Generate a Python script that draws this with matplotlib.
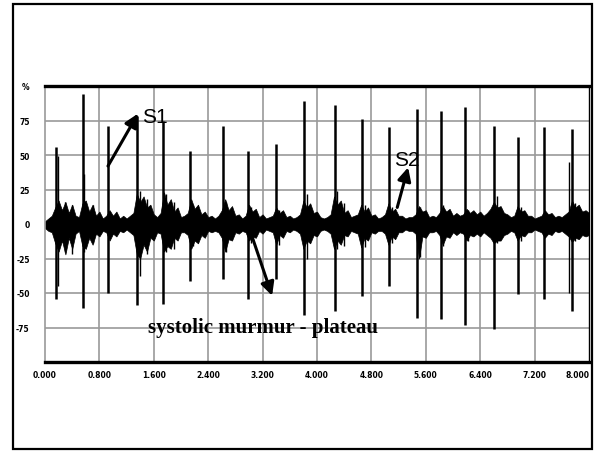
import matplotlib
matplotlib.use("Agg")
import matplotlib.pyplot as plt
from matplotlib.patches import Rectangle

# ---- data ----
x_ticks = [0.0, 0.8, 1.6, 2.4, 3.2, 4.0, 4.8, 5.6, 6.4, 7.2, 8.0]
x_labels = ["0.000", "0.800", "1.600", "2.400", "3.200", "4.000", "4.800",
            "5.600", "6.400", "7.200", "8.000"]
y_ticks = [100, 75, 50, 25, 0, -25, -50, -75]
y_labels = ["%", "75", "50", "25", "0", "-25", "-50", "-75"]

# main heart-sound spikes (time s, positive peak %, negative peak %)
spike_t = [0.16, 0.56, 0.93, 1.35, 1.74, 2.13, 2.62, 2.99, 3.40, 3.81,
           4.26, 4.66, 5.06, 5.47, 5.82, 6.18, 6.60, 6.96, 7.34, 7.75]
spike_up = [56, 94, 71, 78, 75, 53, 71, 53, 58, 89,
            86, 76, 70, 83, 82, 85, 71, 63, 70, 69]
spike_dn = [-54, -61, -50, -59, -58, -41, -40, -54, -40, -66,
            -63, -52, -45, -68, -69, -73, -76, -51, -54, -63]

# secondary spikes next to the main ones
minor_t = [0.19, 0.30, 0.40, 0.58, 0.70, 1.40, 1.50, 1.78, 1.90, 2.18,
           2.66, 3.03, 3.44, 3.85, 4.30, 4.40, 4.70, 5.10, 5.52, 5.86,
           6.22, 6.64, 7.00, 7.71, 7.80]
minor_up = [49, 16, 14, 36, 14, 24, 18, 22, 16, 14,
            16, 12, 10, 22, 24, 15, 14, 12, 12, 14,
            10, 20, 12, 45, 15]
minor_dn = [-45, -20, -22, -20, -14, -38, -22, -20, -18, -16,
            -20, -14, -15, -25, -18, -16, -17, -14, -24, -16,
            -12, -14, -12, -50, -12]

# murmur/noise band envelope, sampled every 0.05 s from 0 to 8 s
env_step = 0.05
env_hi = [2, 4, 6,
          12, 17, 10, 16, 8, 14, 6, 5,
          15, 17, 9, 14, 6, 9, 4, 6,
          10, 6, 9, 4, 6, 4, 6, 8,
          22, 16, 20, 12, 14, 7, 5, 8,
          23, 14, 18, 9, 12, 5, 6, 8,
          18, 11, 14, 7, 9, 5, 6, 4, 6, 10,
          18, 10, 13, 6, 7, 4, 6,
          14, 9, 11, 5, 7, 4, 5, 6,
          12, 8, 10, 5, 6, 4, 5, 7,
          17, 12, 15, 8, 9, 5, 4, 5, 7,
          20, 14, 17, 8, 10, 5, 6, 7,
          14, 9, 12, 6, 7, 4, 5, 7,
          15, 9, 11, 6, 6, 4, 5, 5, 7,
          13, 9, 10, 5, 6, 5, 8,
          13, 9, 11, 6, 8, 6, 7,
          11, 8, 10, 7, 9, 6, 8, 11,
          16, 12, 13, 8, 7, 5, 6,
          13, 9, 10, 6, 6, 4, 5, 6,
          10, 7, 8, 5, 6, 5, 7, 9,
          17, 12, 14, 9, 10, 8]
env_lo = [-3, -5, -6,
          -14, -20, -12, -22, -10, -18, -7, -5,
          -16, -18, -10, -15, -7, -9, -5, -6,
          -12, -7, -9, -5, -6, -4, -6, -8,
          -22, -25, -15, -20, -10, -12, -6, -7,
          -20, -16, -18, -10, -12, -6, -6, -8,
          -18, -12, -14, -8, -10, -5, -6, -5, -6, -10,
          -20, -11, -12, -6, -7, -5, -6,
          -12, -9, -10, -5, -7, -4, -5, -6,
          -15, -8, -10, -5, -6, -4, -5, -7,
          -18, -12, -14, -8, -9, -5, -4, -5, -7,
          -18, -12, -15, -8, -9, -5, -6, -7,
          -17, -10, -12, -6, -7, -5, -5, -7,
          -15, -9, -11, -6, -6, -4, -5, -5, -7,
          -25, -9, -10, -6, -6, -5, -8,
          -15, -9, -10, -6, -8, -6, -7,
          -12, -8, -9, -7, -9, -6, -8, -10,
          -14, -12, -12, -8, -7, -5, -6,
          -12, -8, -9, -6, -6, -4, -5, -6,
          -10, -7, -8, -5, -6, -5, -7, -9,
          -13, -10, -11, -8, -9, -8]
env_t = [i * env_step for i in range(len(env_hi))]

# ---- figure ----
W, H = 596, 456
fig = plt.figure(figsize=(W / 100, H / 100), dpi=100)
fig.patch.set_facecolor("white")
fig.add_artist(Rectangle((13 / W, 1 - 450 / H), (592 - 13) / W, (450 - 5) / H,
                         transform=fig.transFigure, fill=False,
                         edgecolor="black", linewidth=1.6))

ax = fig.add_axes([45 / W, 1 - 363 / H, (589 - 45) / W, (363 - 87) / H])
ax.set_xlim(0, 8.0)
ax.set_ylim(-100, 100)

grid_c = "#9a9a9a"
for xt in x_ticks[1:-1]:
    ax.axvline(xt, color=grid_c, lw=1.2, zorder=1)
for yt in [75, 50, 25, 0, -25, -50, -75]:
    ax.axhline(yt, color=grid_c, lw=1.2, zorder=1)

ax.fill_between(env_t, env_lo, env_hi, color="black", lw=0.5, zorder=2)
ax.vlines(minor_t, minor_dn, minor_up, color="black", lw=1.0, zorder=3)
ax.vlines(spike_t, spike_dn, spike_up, color="black", lw=1.8, zorder=4)

ax.set_xticks(x_ticks)
ax.set_xticklabels(x_labels, fontsize=5.5, fontweight="bold")
ax.get_xticklabels()[-1].set_horizontalalignment("right")
ax.set_yticks(y_ticks)
ax.set_yticklabels(y_labels, fontsize=5.5, fontweight="bold")
ax.tick_params(length=0, pad=6)
ax.tick_params(axis="y", pad=11)

ax.spines["top"].set_linewidth(2.4)
ax.spines["bottom"].set_linewidth(2.4)
ax.spines["right"].set_linewidth(1.0)
ax.spines["left"].set_color(grid_c)
ax.spines["left"].set_linewidth(1.2)

arrow_kw = dict(arrowstyle="-|>,head_length=0.8,head_width=0.4",
                color="black", lw=2.2, shrinkA=0, shrinkB=0)
ax.annotate("", xy=(1.368, 80), xytext=(0.926, 42), arrowprops=arrow_kw, zorder=6)
ax.annotate("", xy=(5.34, 41), xytext=(5.18, 12), arrowprops=arrow_kw, zorder=6)
ax.annotate("", xy=(3.34, -52), xytext=(3.01, -4), arrowprops=arrow_kw, zorder=6)

ax.text(1.42, 74, "S1", fontsize=15, family=["Liberation Sans Narrow", "Liberation Sans"],
        ha="left", va="baseline", zorder=7)
ax.text(5.14, 43, "S2", fontsize=15, family=["Liberation Sans Narrow", "Liberation Sans"],
        ha="left", va="baseline", zorder=7)
ax.text(1.51, -78, "systolic murmur - plateau", fontsize=15, fontweight="bold",
        family=["Liberation Serif"], ha="left", va="baseline", zorder=7)

fig.savefig("out.png", dpi=100, facecolor="white")
